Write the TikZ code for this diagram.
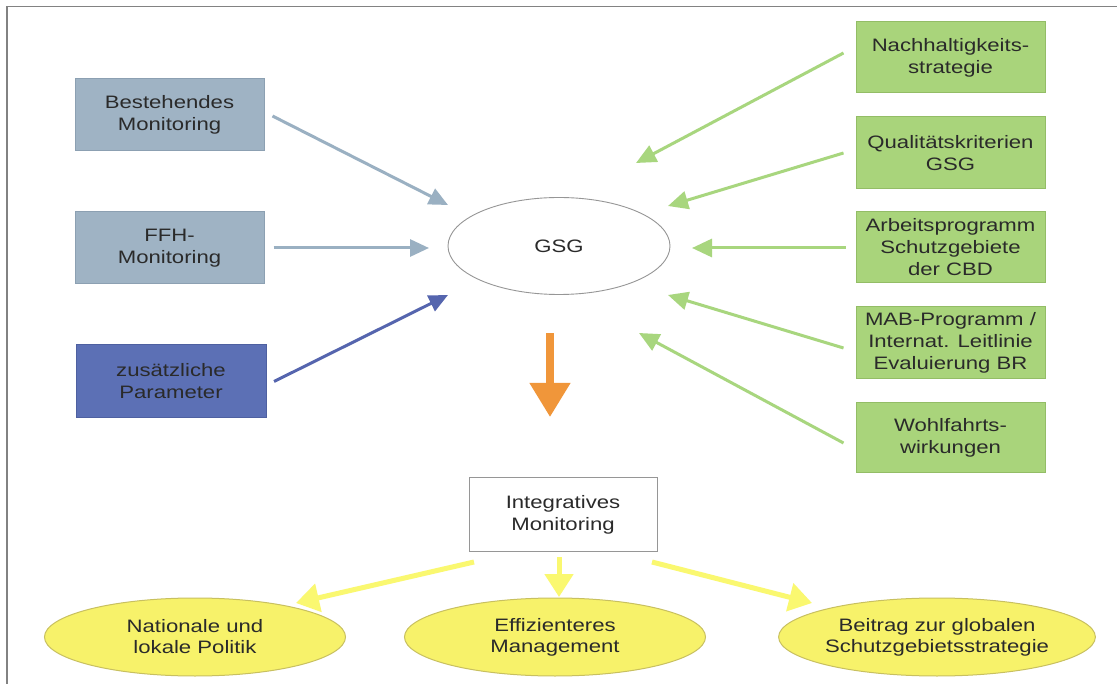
\documentclass[tikz,border=0pt]{standalone}
\usepackage{fontspec}
\setmainfont{Liberation Sans}[FakeStretch=1.23]
\usetikzlibrary{arrows.meta,shapes.geometric,calc}
\definecolor{txt}{RGB}{42,42,42}
\definecolor{bluegray}{RGB}{159,179,196}
\definecolor{bluegrayB}{RGB}{140,160,178}
\definecolor{bluegrayA}{RGB}{154,176,194}
\definecolor{blueD}{RGB}{92,112,181}
\definecolor{blueDB}{RGB}{78,96,160}
\definecolor{blueDA}{RGB}{85,101,174}
\definecolor{greenF}{RGB}{169,212,123}
\definecolor{greenB}{RGB}{147,189,102}
\definecolor{greenA}{RGB}{168,214,126}
\definecolor{yellF}{RGB}{247,242,106}
\definecolor{yellB}{RGB}{200,192,96}
\definecolor{yellA}{RGB}{250,248,112}
\definecolor{orangeA}{RGB}{240,150,58}
\definecolor{frameC}{RGB}{130,130,130}
\definecolor{ellB}{RGB}{150,150,150}
\tikzset{
  x=1pt, y=-1pt,
  box/.style={rectangle, inner sep=0pt, outer sep=0pt, align=center, text=txt,
    font=\fontsize{18}{22}\selectfont, line width=1pt},
  bluebox/.style={box, fill=bluegray, draw=bluegrayB, minimum width=189pt, minimum height=72pt},
  darkbox/.style={box, fill=blueD, draw=blueDB, minimum width=190pt, minimum height=73pt},
  greenbox/.style={box, fill=greenF, draw=greenB, minimum width=189pt, minimum height=71pt},
  whitebox/.style={box, fill=white, draw=ellB, minimum width=188pt, minimum height=73pt},
  yellell/.style={ellipse, inner sep=0pt, outer sep=0pt, align=center, text=txt,
    font=\fontsize{18}{21}\selectfont, fill=yellF, draw=yellB, line width=1pt,
    minimum width=301pt, minimum height=78pt},
  gsgell/.style={ellipse, inner sep=0pt, outer sep=0pt, text=txt,
    font=\fontsize{18}{22}\selectfont, draw=ellB, line width=0.9pt, fill=white,
    minimum width=222pt, minimum height=97pt},
  arrB/.style={draw=bluegrayA, line width=3pt, -{Triangle[length=19pt,width=17pt]}},
  arrD/.style={draw=blueDA, line width=3pt, -{Triangle[length=19pt,width=17pt]}},
  arrG/.style={draw=greenA, line width=3pt, -{Triangle[length=20pt,width=18pt]}},
  arrY/.style={draw=yellA, line width=5pt, -{Triangle[length=23pt,width=28pt]}},
  arrO/.style={draw=orangeA, line width=7.5pt, -{Triangle[length=34pt,width=39pt]}},
}
\begin{document}
\begin{tikzpicture}
\useasboundingbox (0,0) rectangle (1117,684);
\fill[white] (0,0) rectangle (1117,684);
\draw[frameC, line width=1.5pt] (7,684) -- (7,6.5) -- (1117,6.5);

% left boxes
\node[bluebox] (b1) at (169.5,115) {Bestehendes\\Monitoring};
\node[bluebox] (b2) at (169.5,248) {FFH-\\Monitoring};
\node[darkbox] (b3) at (171,381.5) {zusätzliche\\Parameter};

% centre
\node[gsgell] (gsg) at (559,246) {GSG};

% right boxes
\node[greenbox] (g1) at (950.5,57.5) {Nachhaltigkeits-\\strategie};
\node[greenbox, minimum height=72pt] (g2) at (950.5,153) {Qualitätskriterien\\GSG};
\node[greenbox] (g3) at (950.5,247.5) {Arbeitsprogramm\\Schutzgebiete\\der CBD};
\node[greenbox, minimum height=72pt] (g4) at (950.5,343) {MAB-Programm /\\Internat. Leitlinie\\Evaluierung BR};
\node[greenbox, minimum height=70pt] (g5) at (950.5,438) {Wohlfahrts-\\wirkungen};

% result
\node[whitebox] (integ) at (563,514.5) {Integratives\\Monitoring};

% bottom ellipses
\node[yellell] (e1) at (195,637) {Nationale und\\lokale Politik};
\node[yellell] (e2) at (555,637) {Effizienteres\\Management};
\node[yellell] (e3) at (937,637) {Beitrag zur globalen\\Schutzgebietsstrategie};

% arrows into GSG
\draw[arrB] ($(b1.east)+(8.5,1)$) -- ($(gsg.west)+(0,-41)$);
\draw[arrB] ($(b2.east)+(9.5,0)$) -- ($(gsg.west)+(-19,2)$);
\draw[arrD] ($(b3.east)+(8,0)$) -- ($(gsg.west)+(0,49)$);

\draw[arrG] ($(g1.west)+(-12.5,-4.5)$) -- ($(gsg.center)+(77,-83)$);
\draw[arrG] ($(g2.west)+(-12.5,0)$) -- ($(gsg.east)+(-2,-40)$);
\draw[arrG] ($(g3.west)+(-10.5,0.5)$) -- ($(gsg.east)+(22,2)$);
\draw[arrG] ($(g4.west)+(-12.5,5)$) -- ($(gsg.east)+(-2,49)$);
\draw[arrG] ($(g5.west)+(-12.5,5)$) -- ($(gsg.center)+(80,87)$);

% orange arrow
\draw[arrO] ($(gsg.south)+(-9,39)$) -- ($(integ.north)+(-13,-61)$);

% yellow arrows
\draw[arrY] ($(integ.south)+(-89,11)$) -- ($(e1.north)+(101,5)$);
\draw[arrY] ($(integ.south)+(-4,6)$) -- ($(e2.north)+(4,-1)$);
\draw[arrY] ($(integ.south)+(89,11)$) -- ($(e3.north)+(-125,5)$);
\end{tikzpicture}
\end{document}
